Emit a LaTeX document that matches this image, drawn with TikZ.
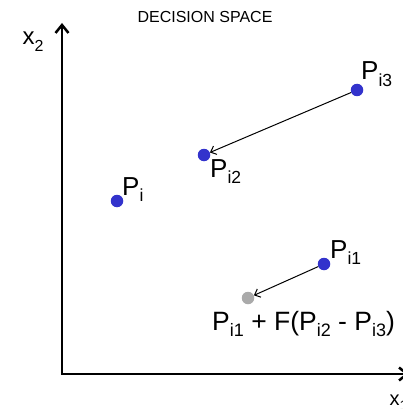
\documentclass[tikz,border=0pt]{standalone}
\usepackage{fontspec}
\setmainfont{Liberation Sans}
\usetikzlibrary{arrows.meta}
\definecolor{dotblue}{RGB}{51,51,204}
\definecolor{dotgray}{RGB}{170,170,170}
\newcommand\mylab[2]{{\fontsize{26}{26}\selectfont #1}\raisebox{-6.5pt}{\fontsize{17.5}{17.5}\selectfont #2}}
\newcommand\mylabf[2]{{\fontsize{26.5}{26.5}\selectfont #1}\raisebox{-6.5pt}{\fontsize{18}{18}\selectfont #2}}
\begin{document}
\begin{tikzpicture}[x=1pt,y=-1pt,
  dot/.style={circle,fill=#1,inner sep=0pt,minimum size=12.5pt},
  lab/.style={anchor=base west,inner sep=0pt},
  conn/.style={line width=1pt,-{Straight Barb[length=5pt,width=9pt]}},
  axis/.style={line width=2.5pt,line join=miter,{Straight Barb[length=8pt,width=13pt]}-{Straight Barb[length=8pt,width=13pt]}}]
\useasboundingbox (0,0) rectangle (403,409);
\coordinate (o) at (62,374);
\coordinate (ytip) at (62,23);
\coordinate (xtip) at (409,374);
\draw[axis] (ytip) -- (o) -- (xtip);
\node[anchor=base,inner sep=0pt] (title) at (205,23) {\fontsize{16}{16}\selectfont DECISION SPACE};
\node[lab] (x2) at (22.5,45) {\fontsize{24}{24}\selectfont x\raisebox{-6.5pt}{\fontsize{16}{16}\selectfont 2}};
\node[lab] (x1) at (389.5,405) {\fontsize{20}{20}\selectfont x\raisebox{-5pt}{\fontsize{14}{14}\selectfont 1}};
\node[dot=dotblue] (p3) at (357,90) {};
\node[dot=dotblue] (p2) at (204,155) {};
\node[dot=dotblue] (pi) at (117,201) {};
\node[dot=dotblue] (p1) at (324,264) {};
\node[dot=dotgray] (pm) at (248,298) {};
\node[lab] (l3) at (361,80) {\mylab{P}{i3}};
\node[lab] (l2) at (210,177) {\mylab{P}{i2}};
\node[lab] (li) at (122,195) {\mylab{P}{i}};
\node[lab] (l1) at (330,258) {\mylab{P}{i1}};
\node[lab] (lf) at (212,330) {\fontsize{26.5}{26.5}\selectfont\mylabf{P}{i1} + F(\mylabf{P}{i2} - \mylabf{P}{i3})};
\draw[conn] (p3) -- (p2);
\draw[conn] (p1) -- (pm);
\end{tikzpicture}
\end{document}
